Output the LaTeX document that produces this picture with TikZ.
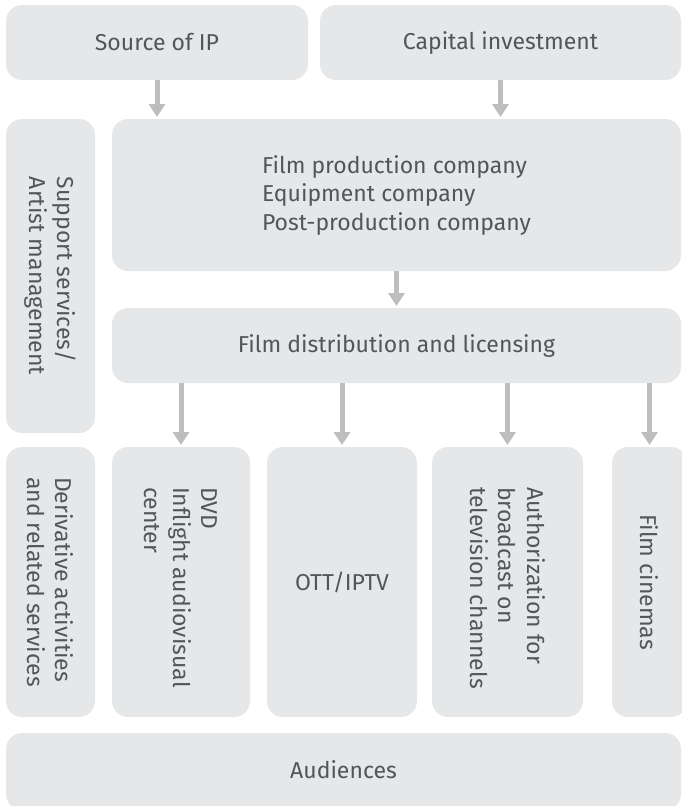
\documentclass[tikz,border=0pt]{standalone}
\usepackage{fontspec}
\setmainfont{Fira Sans}
\usetikzlibrary{arrows.meta}
\definecolor{boxfill}{HTML}{E6E7E8}
\definecolor{txt}{HTML}{545557}
\definecolor{arr}{HTML}{BCBEC0}
\tikzset{
  box/.style={fill=boxfill, rounded corners=16pt, inner sep=0pt, outer sep=0pt, anchor=north west},
  lbl/.style={text=txt, font=\fontsize{23}{28.5}\selectfont, inner sep=0pt, align=center},
  vlbl/.style={lbl, rotate=-90, align=left},
  flow/.style={draw=arr, line width=5pt, shorten >=2pt, -{Triangle[width=16pt,length=13pt]}}
}
\begin{document}
\begin{tikzpicture}[x=1pt,y=-1pt]
\useasboundingbox (0,0) rectangle (681,806);
% top row
\node[box, minimum width=302pt, minimum height=75pt] (src) at (6,5) {};
\node[box, minimum width=361pt, minimum height=75pt] (cap) at (320,5) {};
% side boxes
\node[box, minimum width=89pt, minimum height=314pt] (sup) at (6,119) {};
\node[box, minimum width=89pt, minimum height=270pt] (der) at (6,447) {};
% production / distribution
\node[box, minimum width=569pt, minimum height=152pt] (prod) at (112,119) {};
\node[box, minimum width=569pt, minimum height=75pt] (dist) at (112,308) {};
% outlets
\node[box, minimum width=138pt, minimum height=270pt] (dvd) at (112,447) {};
\node[box, minimum width=150pt, minimum height=270pt] (ott) at (267,447) {};
\node[box, minimum width=151pt, minimum height=270pt] (auth) at (432,447) {};
\node[box, minimum width=75pt, minimum height=270pt] (cin) at (612,447) {};
% audiences
\node[box, minimum width=675pt, minimum height=77pt] (aud) at (6,733) {};

% labels
\node[lbl] at (src.center) {Source of IP};
\node[lbl] at (cap.center) {Capital investment};
\node[vlbl] at (sup.center) {Support services/\\Artist management};
\node[vlbl] at (der.center) {Derivative activities\\and related services};
\node[lbl, align=left] at (prod.center) {Film production company\\Equipment company\\Post-production company};
\node[lbl] at (dist.center) {Film distribution and licensing};
\node[vlbl, anchor=west] at (dvd.north |- 0,487) {DVD\\Inflight audiovisual\\center};
\node[lbl] at (ott.center) {OTT/IPTV};
\node[vlbl, anchor=west] at (auth.north |- 0,487) {Authorization for\\broadcast on\\television channels};
\node[vlbl] at (cin.center) {Film cinemas};
\node[lbl] at (0,770 -| aud.center) {Audiences};

% connectors
\draw[flow] (src.south) -- (src.south |- prod.north);
\draw[flow] (cap.south) -- (cap.south |- prod.north);
\draw[flow] (prod.south) -- (dist.north);
\draw[flow] (dist.south -| dvd.north) -- (dvd.north);
\draw[flow] (dist.south -| ott.north) -- (ott.north);
\draw[flow] (dist.south -| auth.north) -- (auth.north);
\draw[flow] (dist.south -| cin.north) -- (cin.north);
\end{tikzpicture}
\end{document}
